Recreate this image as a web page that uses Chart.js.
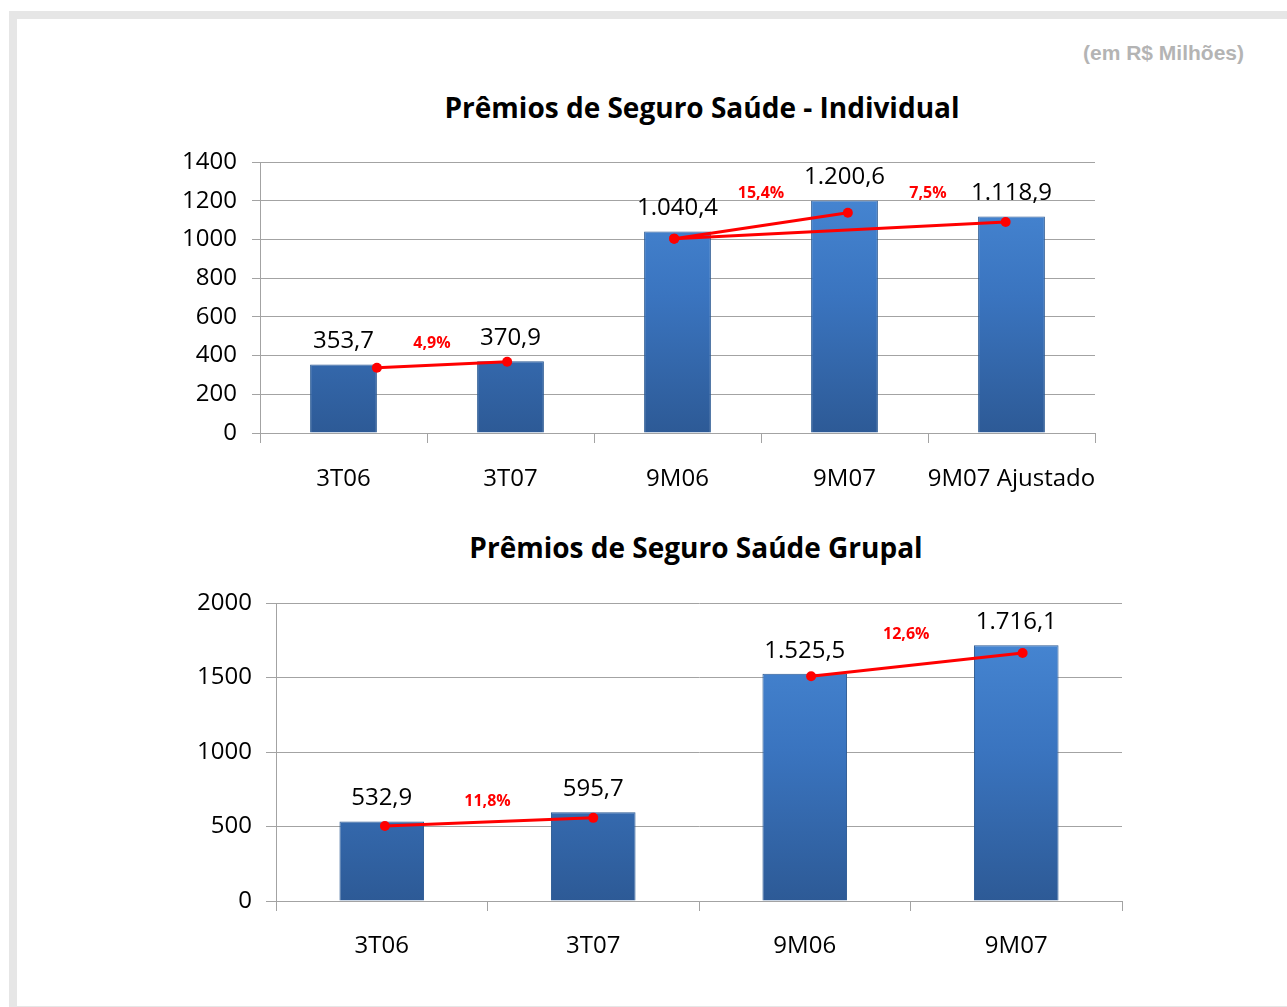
<!DOCTYPE html>
<html>
<head>
<meta charset="utf-8">
<script src="https://cdn.jsdelivr.net/npm/chart.js@4.4.0/dist/chart.umd.min.js"></script>
<style>
  body { margin: 0; background: #fff; width: 1287px; height: 1007px; overflow: hidden; position: relative; font-family: "Open Sans", sans-serif; }
  #frame { position: absolute; left: 9px; top: 11px; width: 1290px; height: 987px; border-top: 8px solid #e6e6e6; border-left: 8px solid #e6e6e6; border-bottom: 8px solid #e6e6e6; background: #fff; }
  #unit { position: absolute; right: 43px; top: 41px; font-family: "Liberation Sans", Arial, sans-serif; font-weight: bold; font-size: 21px; color: #b4b4b4; }
  .title { position: absolute; width: 800px; text-align: center; font-weight: bold; font-size: 28px; color: #000; line-height: 36px; white-space: nowrap; }
  #t1 { left: 302px; top: 89px; }
  #t2 { left: 296px; top: 529px; }
  #box1 { position: absolute; left: 150px; top: 80px; width: 985px; height: 420px; }
  #box2 { position: absolute; left: 150px; top: 520px; width: 990px; height: 470px; }
</style>
</head>
<body>
<div id="frame"></div>
<div id="unit">(em R$ Milhões)</div>
<div class="title" id="t1">Prêmios de Seguro Saúde - Individual</div>
<div class="title" id="t2">Prêmios de Seguro Saúde Grupal</div>
<div id="box1"><canvas id="c1"></canvas></div>
<div id="box2"><canvas id="c2"></canvas></div>
<script>
// grafico 1 - individual
const cats1 = ['3T06', '3T07', '9M06', '9M07', '9M07 Ajustado'];
const vals1 = [353.7, 370.9, 1040.4, 1200.6, 1118.9];
const valTxt1 = ['353,7', '370,9', '1.040,4', '1.200,6', '1.118,9'];
const lineA1 = [{x: 0.2, y: 337}, {x: 0.98, y: 368}];
const lineB1 = [{x: 1.98, y: 1004}, {x: 3.02, y: 1138}];
const lineC1 = [{x: 1.98, y: 1004}, {x: 3.965, y: 1090}];
const pctTxt1 = ['4,9%', '15,4%', '7,5%'];
const pctX1 = [0.53, 2.5, 3.5];
const pctY1 = [465, 1240, 1240];

// grafico 2 - grupal
const cats2 = ['3T06', '3T07', '9M06', '9M07'];
const vals2 = [532.9, 595.7, 1525.5, 1716.1];
const valTxt2 = ['532,9', '595,7', '1.525,5', '1.716,1'];
const lineA2 = [{x: 0.015, y: 503}, {x: 1.0, y: 558}];
const lineB2 = [{x: 2.03, y: 1508}, {x: 3.03, y: 1665}];
const pctTxt2 = ['11,8%', '12,6%'];
const pctX2 = [0.5, 2.48];
const pctY2 = [670, 1790];

const FONT = '"Open Sans", sans-serif';
const GRID = '#a3a3a3';

function barFill(ctx) {
    const c = ctx.chart;
    const a = c.chartArea;
    if (!a) return '#3b78c6';
    const el = ctx.element;
    const top = el && el.y != null ? el.y : a.top;
    const g = c.ctx.createLinearGradient(0, top, 0, a.bottom);
    g.addColorStop(0, '#6aa2e2');
    g.addColorStop(0.03, '#4889d6');
    g.addColorStop(0.5, '#3a74bf');
    g.addColorStop(1, '#2d5a96');
    return g;
}

const labelPlugin = {
    id: 'labels',
    afterDatasetsDraw(chart, args, opts) {
        const ctx = chart.ctx;
        const meta = chart.getDatasetMeta(0);
        ctx.save();
        ctx.textAlign = 'center';
        ctx.textBaseline = 'middle';
        ctx.fillStyle = '#000';
        ctx.font = opts.valSize + 'px ' + FONT;
        meta.data.forEach((bar, i) => {
            ctx.fillText(opts.valTxt[i], bar.x, bar.y - 23);
        });
        ctx.fillStyle = '#ff0000';
        ctx.font = 'bold 16px ' + FONT;
        const xs = chart.scales.xl, ys = chart.scales.y;
        opts.pctTxt.forEach((t, i) => {
            ctx.fillText(t, xs.getPixelForValue(opts.pctX[i]), ys.getPixelForValue(opts.pctY[i]));
        });
        ctx.restore();
    }
};

function segment(data) {
    return {
        type: 'line',
        data: data,
        xAxisID: 'xl',
        borderColor: '#ff0000',
        backgroundColor: '#ff0000',
        borderWidth: 3,
        pointRadius: 5,
        pointBorderWidth: 0,
        order: 0
    };
}

function makeChart(id, cats, vals, segs, cfg) {
    return new Chart(document.getElementById(id), {
        type: 'bar',
        data: {
            labels: cats,
            datasets: [
                {
                    data: vals,
                    backgroundColor: barFill,
                    borderColor: '#2c5a93',
                    borderWidth: 1,
                    barPercentage: 0.4,
                    categoryPercentage: 1,
                    grouped: false,
                    order: 1
                }
            ].concat(segs.map(segment))
        },
        options: {
            responsive: true,
            maintainAspectRatio: false,
            animation: false,
            layout: { padding: { left: 0, right: cfg.padRight, top: cfg.padTop, bottom: 0 } },
            plugins: {
                legend: { display: false },
                tooltip: { enabled: false },
                title: { display: false },
                labels: {
                    valTxt: cfg.valTxt, valSize: 24,
                    pctTxt: cfg.pctTxt, pctX: cfg.pctX, pctY: cfg.pctY
                }
            },
            scales: {
                x: {
                    offset: true,
                    grid: { offset: true, drawOnChartArea: false, drawTicks: true, tickLength: 10, color: GRID },
                    border: { color: GRID },
                    ticks: { color: '#000', font: { family: FONT, size: 24 }, padding: cfg.xPad, maxRotation: 0, autoSkip: false },
                    afterFit(s) { s.height = cfg.xHeight; }
                },
                xl: {
                    type: 'linear',
                    display: false,
                    offset: false,
                    min: -0.5,
                    max: cats.length - 0.5
                },
                y: {
                    min: 0,
                    max: cfg.yMax,
                    grid: { color: GRID, tickLength: cfg.yTick },
                    border: { color: GRID },
                    ticks: {
                        stepSize: cfg.yStep, color: '#000', font: { family: FONT, size: 24 }, padding: cfg.yPad,
                        callback: v => String(v)
                    },
                    afterFit(s) { s.width = cfg.yWidth; }
                }
            }
        },
        plugins: [labelPlugin]
    });
}

makeChart('c1', cats1, vals1, [lineA1, lineB1, lineC1], {
    padTop: 82, padRight: 40,
    yWidth: 110, yMax: 1400, yStep: 200, yTick: 8, yPad: 15,
    xHeight: 67, xPad: 22,
    valTxt: valTxt1, pctTxt: pctTxt1, pctX: pctX1, pctY: pctY1
});

makeChart('c2', cats2, vals2, [lineA2, lineB2], {
    padTop: 83, padRight: 18,
    yWidth: 126, yMax: 2000, yStep: 500, yTick: 10, yPad: 14,
    xHeight: 89, xPad: 21,
    valTxt: valTxt2, pctTxt: pctTxt2, pctX: pctX2, pctY: pctY2
});
</script>
</body>
</html>
